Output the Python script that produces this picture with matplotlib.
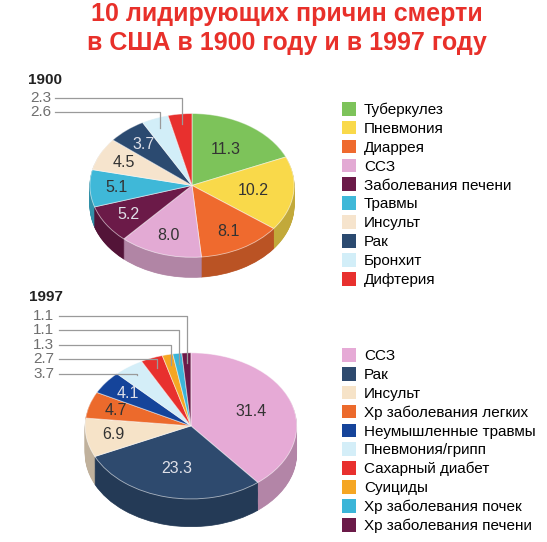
import numpy as np
import matplotlib
matplotlib.use("Agg")
import matplotlib.pyplot as plt
from matplotlib.patches import Patch
from matplotlib.colors import to_rgb

plt.rcParams['font.family'] = ['Liberation Sans', 'DejaVu Sans']

title = "10 лидирующих причин смерти\nв США в 1900 году и в 1997 году"

causes_1900 = ["Туберкулез", "Пневмония", "Диаррея", "ССЗ", "Заболевания печени",
               "Травмы", "Инсульт", "Рак", "Бронхит", "Дифтерия"]
values_1900 = [11.3, 10.2, 8.1, 8.0, 5.2, 5.1, 4.5, 3.7, 2.6, 2.3]
colors_1900 = ["#7dc35a", "#f9d94a", "#ef6a2e", "#e3aad4", "#6b1a48",
               "#3fb8d8", "#f6e4cd", "#2b4a70", "#d2eef8", "#e8302e"]

causes_1997 = ["ССЗ", "Рак", "Инсульт", "Хр заболевания легких", "Неумышленные травмы",
               "Пневмония/грипп", "Сахарный диабет", "Суициды", "Хр заболевания почек",
               "Хр заболевания печени"]
values_1997 = [31.4, 23.3, 6.9, 4.7, 4.1, 3.7, 2.7, 1.3, 1.1, 1.1]
colors_1997 = ["#e6aad6", "#2e4a6e", "#f6e3c8", "#ec6a2c", "#15449a",
               "#d4eef8", "#e8302e", "#f5a623", "#3bb5d8", "#6b1a48"]


def darker(c, f=0.78):
    r, g, b = to_rgb(c)
    return (r * f, g * f, b * f)


def draw_pie(ax, values, colors, depth, line_x, label_top):
    # fake 3d: stack darker pies downwards, then the real top face
    n_layers = 30
    side = [darker(c) for c in colors]
    for i in range(n_layers):
        cy = -depth + depth * i / n_layers
        ws, _ = ax.pie(values, colors=side, startangle=90, counterclock=False,
                       center=(0, cy), wedgeprops=dict(linewidth=0.5))
        for w in ws:
            w.set_edgecolor(w.get_facecolor())
    wedges, _ = ax.pie(values, colors=colors, startangle=90, counterclock=False,
                       center=(0, 0), wedgeprops=dict(edgecolor=(1, 1, 1, 0.6), linewidth=0.6))
    ax.set_aspect('auto')
    ax.set_xlim(-1.2, 1.2)
    ax.set_ylim(-1.5, 1.2)

    total = sum(values)
    leaders = []
    for w, v, c in zip(wedges, values, colors):
        mid = np.deg2rad((w.theta1 + w.theta2) / 2)
        share = v / total
        if share < 0.05:
            leaders.append((v, mid))
            continue
        r = 0.6 if share > 0.15 else 0.74
        r_, g_, b_ = to_rgb(c)
        lum = 0.3 * r_ + 0.59 * g_ + 0.11 * b_
        tc = "#dfe0e8" if lum < 0.4 else "#333333"
        ax.text(r * np.cos(mid), r * np.sin(mid), f"{v:.1f}", ha='center', va='center',
                fontsize=11.5, color=tc)

    for k, (v, mid) in enumerate(reversed(leaders)):
        ly = label_top - 0.2 * k
        ex, ey = 0.86 * np.cos(mid), 0.86 * np.sin(mid)
        ax.plot([line_x, ex, ex], [ly, ly, ey], color="#9a9a9a", lw=0.9, clip_on=False)
        ax.text(line_x - 0.04, ly, f"{v:.1f}", ha='right', va='center',
                fontsize=11, color="#6f6f6f", clip_on=False)


fig = plt.figure(figsize=(5.47, 5.42), dpi=100)

fig.text(0.525, 0.996, title, ha='center', va='top', fontsize=18, fontweight='bold',
         color="#e8302a", linespacing=1.25)

ax1 = fig.add_axes([0.127, 0.459, 0.448, 0.358])
draw_pie(ax1, values_1900, colors_1900, 0.28, -1.34, 1.22)
ax2 = fig.add_axes([0.117, 0.012, 0.464, 0.364])
draw_pie(ax2, values_1997, colors_1997, 0.38, -1.25, 1.51)

fig.text(0.051, 0.852, "1900", fontsize=11, fontweight='bold', color="#222222", va='center')
fig.text(0.053, 0.452, "1997", fontsize=11, fontweight='bold', color="#222222", va='center')

h1 = [Patch(facecolor=c, edgecolor='none') for c in colors_1900]
fig.legend(h1, causes_1900, loc='upper left', bbox_to_anchor=(0.625, 0.812),
           frameon=False, fontsize=11, handlelength=0.95, handleheight=1.0,
           handletextpad=0.5, labelspacing=0.25, borderpad=0, borderaxespad=0)
h2 = [Patch(facecolor=c, edgecolor='none') for c in colors_1997]
fig.legend(h2, causes_1997, loc='upper left', bbox_to_anchor=(0.625, 0.358),
           frameon=False, fontsize=11, handlelength=0.95, handleheight=1.0,
           handletextpad=0.5, labelspacing=0.25, borderpad=0, borderaxespad=0)

fig.savefig("out.png", dpi=100)
